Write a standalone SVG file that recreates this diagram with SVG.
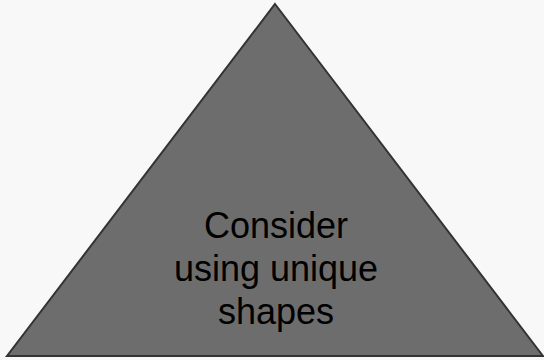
<svg xmlns="http://www.w3.org/2000/svg" width="544" height="360" viewBox="0 0 544 360">
<style>
.shape{fill:#6d6d6d;stroke:#333333;stroke-width:2;stroke-linejoin:miter}
.lbl{font-family:"Liberation Sans",Arial,sans-serif;font-size:36px;fill:#000000;text-anchor:middle}
</style>
<rect width="544" height="360" fill="#f8f8f8"/>
<g id="connectors"></g>
<g id="triangle">
<polygon class="shape" points="275,4 543,356 7,356"/>
<text class="lbl" x="276" y="238">Consider</text>
<text class="lbl" x="276" y="281">using unique</text>
<text class="lbl" x="276" y="324">shapes</text>
</g>
</svg>
